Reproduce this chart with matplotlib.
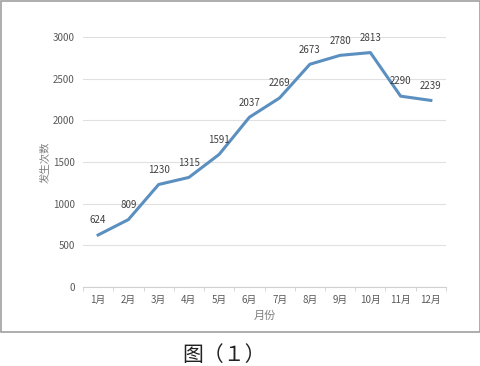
import matplotlib.pyplot as plt
from matplotlib.patches import Rectangle

plt.rcParams['font.family'] = ['Noto Sans CJK SC', 'DejaVu Sans']

months = ["1月", "2月", "3月", "4月", "5月", "6月", "7月", "8月", "9月", "10月", "11月", "12月"]
counts = [624, 809, 1230, 1315, 1591, 2037, 2269, 2673, 2780, 2813, 2290, 2239]
yticks = [0, 500, 1000, 1500, 2000, 2500, 3000]

fig = plt.figure(figsize=(4.81, 3.66), dpi=100)
ax = fig.add_axes([83 / 481, 1 - 287 / 366, (446 - 83) / 481, 250 / 366])

x = list(range(len(months)))
ax.plot(x, counts, color="#5b8fc0", linewidth=2.2, solid_joinstyle="round")
for xi, v in zip(x, counts):
    ax.annotate(str(v), (xi, v), xytext=(0, 7), textcoords="offset points",
                ha="center", va="bottom", fontsize=7, color="#404040")

ax.set_xlim(-0.5, len(months) - 0.5)
ax.set_ylim(0, 3000)
ax.set_yticks(yticks)
ax.set_xticks(x)
ax.set_xticklabels(months)
ax.set_xticks([i + 0.5 for i in range(-1, len(months))], minor=True)
ax.tick_params(axis="x", which="major", length=0, labelsize=7, colors="#595959", pad=6)
ax.tick_params(axis="x", which="minor", length=3, color="#d0d0d0", direction="out")
ax.tick_params(axis="y", length=0, labelsize=7, colors="#595959", pad=6)
ax.grid(axis="y", color="#e0e0e0", linewidth=0.8)
ax.set_axisbelow(True)
for s in ["top", "right", "left"]:
    ax.spines[s].set_visible(False)
ax.spines["bottom"].set_color("#d0d0d0")

ax.set_xlabel("月份", fontsize=8, color="#7f7f7f", labelpad=4)
ax.set_ylabel("发生次数", fontsize=7.5, color="#7f7f7f", labelpad=2)

fig.patches.append(Rectangle((0.5 / 481, 1 - 332 / 366), 479.5 / 481, 331.5 / 366,
                             transform=fig.transFigure, fill=False,
                             edgecolor="#a0a0a0", linewidth=1.2))
fig.text(182 / 481, 1 - 355 / 366, "图（１）", fontsize=15, ha="left", va="center", color="#222222")

fig.savefig("out.png", dpi=100)
